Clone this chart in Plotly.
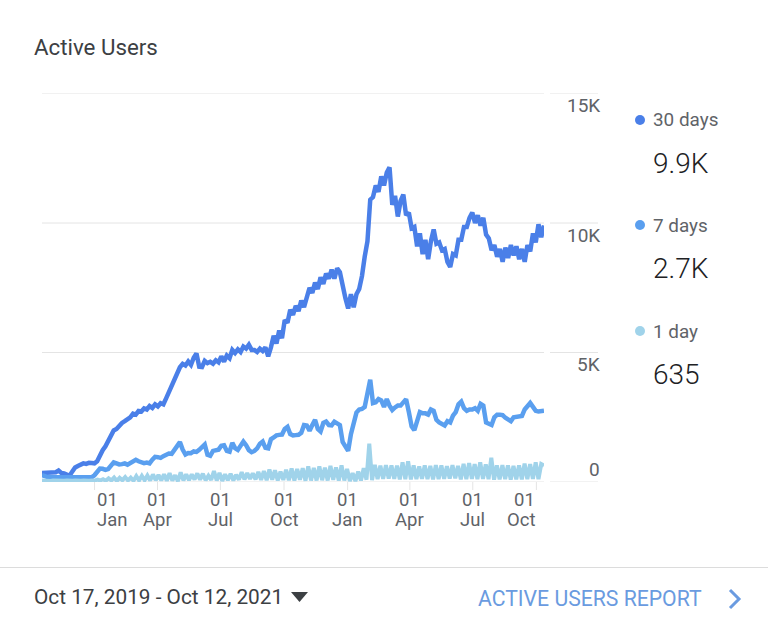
import pandas as pd
import plotly.graph_objects as go

WIDTH = 768
HEIGHT = 624

start_date = "2019-10-17"
end_date = "2021-10-12"

users_30_days = [
    350, 350, 370, 360, 370, 380, 440, 350, 330, 260, 240, 410, 560, 620, 680, 720, 700, 740, 730, 720,
    800, 1040, 1230, 1380, 1560, 1800, 1990, 2050, 2180, 2280, 2350, 2420, 2500, 2640, 2600, 2740, 2720, 2840, 2800, 2930,
    2860, 3000, 2920, 3040, 3000, 3230, 3470, 3800, 4050, 4220, 4430, 4560, 4500, 4650, 4520, 4800, 4960, 4450, 4440, 4680,
    4590, 4640, 4570, 4700, 4620, 4850, 4650, 4880, 4780, 5100, 4980, 5120, 5020, 5230, 5150, 5300, 5100, 5100, 5020, 5150,
    5060, 5200, 4850, 5200, 5650, 5350, 5850, 5550, 6250, 6150, 6650, 6450, 6800, 6600, 7000, 6750, 7200, 7500, 7300, 7700,
    7450, 7900, 7650, 8050, 7850, 8200, 7850, 8250, 8100, 7500, 7100, 6700, 7250, 6750, 7250, 7450, 7950, 8700, 9300, 10900,
    11000, 11450, 11200, 11800, 11450, 11950, 12150, 10700, 11050, 10250, 10850, 11100, 10300, 10400, 9800, 9850, 9100, 9600, 8800, 9350,
    8600, 9300, 9750, 9200, 9250, 8950, 9000, 8500, 8300, 8800, 8750, 9350, 9350, 9850, 9850, 10200, 10400, 10000, 10300, 9900,
    10200, 9550, 9400, 8950, 9150, 8700, 9000, 8500, 9050, 8650, 9150, 8750, 9100, 8600, 9000, 8500, 9150, 8900, 9600, 9250,
    9950, 9450, 9900,
]
users_7_days = [
    270, 220, 190, 180, 180, 190, 170, 190, 180, 190, 190, 180, 200, 210, 190, 180, 190, 180, 180, 260,
    420, 520, 510, 470, 500, 620, 760, 720, 680, 690, 720, 670, 730, 830, 860, 800, 770, 730, 750, 720,
    860, 970, 960, 930, 1000, 1060, 1100, 1090, 1250, 1400, 1540, 1250, 1060, 1120, 1110, 1180, 1160, 1240, 1380, 1450,
    1050, 1010, 1200, 1230, 1250, 1400, 1420, 1200, 1170, 1510, 1310, 1240, 1400, 1560, 1420, 1230, 1150, 1200, 1300, 1480,
    1560, 1320, 1300, 1650, 1720, 1800, 1820, 1830, 2050, 2130, 1850, 1800, 1810, 1820, 1900, 2200, 2180, 1980, 2200, 2400,
    2050, 1950, 2280, 2330, 2200, 2190, 2330, 2280, 2200, 1550, 1400, 1200, 1850, 2330, 2680, 2800, 2820, 2900, 3500, 3950,
    3050, 3080, 3200, 3150, 2900, 3200, 2950, 2780, 2880, 2950, 2950, 3100, 3200, 2700, 2150, 2000, 2300, 2700, 2650, 2650,
    2600, 2800, 2750, 2400, 2300, 2250, 2180, 2350, 2300, 2560, 2700, 3000, 3100, 2850, 2750, 2800, 2800, 2850, 2750, 3020,
    2950, 2300, 2250, 2200, 2500, 2600, 2600, 2580, 2480, 2400, 2350, 2500, 2520, 2500, 2550, 2800, 2950, 3050, 2900, 2750,
    2720, 2750, 2750,
]
users_1_day = [
    60, 50, 70, 40, 60, 50, 70, 40, 50, 60, 40, 50, 60, 40, 50, 60, 40, 50, 60, 50,
    90, 60, 110, 50, 140, 60, 170, 40, 160, 70, 190, 60, 170, 50, 230, 60, 240, 70, 250, 60,
    290, 70, 270, 60, 300, 50, 340, 60, 260, 30, 370, 60, 300, 70, 290, 100, 330, 90, 320, 70,
    240, 80, 420, 60, 350, 40, 300, 70, 320, 60, 280, 90, 380, 100, 340, 120, 330, 100, 390, 80,
    420, 70, 480, 90, 450, 60, 400, 80, 470, 70, 520, 60, 500, 90, 530, 50, 600, 60, 540, 60,
    600, 70, 550, 60, 620, 80, 560, 50, 640, 60, 500, 40, 340, 30, 400, 60, 530, 90, 1480, 70,
    660, 110, 630, 120, 650, 130, 640, 120, 630, 100, 760, 110, 800, 100, 640, 110, 600, 120, 640, 110,
    620, 100, 650, 110, 640, 120, 610, 130, 650, 140, 620, 100, 700, 110, 730, 120, 690, 110, 760, 120,
    680, 110, 940, 90, 640, 100, 650, 110, 640, 90, 620, 100, 640, 100, 710, 110, 690, 120, 760, 110,
    690, 635,
]

tick_dates = ["2020-01-01", "2020-04-01", "2020-07-01", "2020-10-01",
              "2021-01-01", "2021-04-01", "2021-07-01", "2021-10-01"]
tick_days = ["01", "01", "01", "01", "01", "01", "01", "01"]
tick_months = ["Jan", "Apr", "Jul", "Oct", "Jan", "Apr", "Jul", "Oct"]
y_ticks = [0, 5000, 10000, 15000]
y_labels = ["0", "5K", "10K", "15K"]

legend_names = ["30 days", "7 days", "1 day"]
legend_values = ["9.9K", "2.7K", "635"]
colors = ["#4a7fe8", "#5a9fef", "#a0d3ea"]
line_widths = [4.5, 4.5, 4]

GRID = "#e4e4e4"
LABEL = "#5f6368"
FONT = "Roboto"


def px(x):
    return x / WIDTH


def py(y):
    return 1 - y / HEIGHT


def dates_for(values):
    return pd.date_range(start_date, end_date, periods=len(values))


def text(x, y, string, size, color, anchor="left", weight=400):
    fig.add_annotation(
        x=px(x), y=py(y), xref="paper", yref="paper",
        text=string, showarrow=False,
        xanchor=anchor, yanchor="middle",
        font=dict(family=FONT, size=size, color=color, weight=weight),
        borderpad=0, borderwidth=0,
    )


fig = go.Figure()

series = [users_30_days, users_7_days, users_1_day]
for name, values, color, line_width in zip(legend_names, series, colors, line_widths):
    fig.add_trace(go.Scatter(
        x=dates_for(values),
        y=values,
        name=name,
        mode="lines",
        line=dict(color=color, width=line_width),
        cliponaxis=False,
    ))

fig.update_layout(
    width=WIDTH,
    height=HEIGHT,
    margin=dict(l=0, r=0, t=0, b=0),
    paper_bgcolor="white",
    plot_bgcolor="white",
    showlegend=False,
    font=dict(family=FONT),
)
fig.update_xaxes(
    domain=[px(42), px(544)],
    range=[start_date, end_date],
    type="date",
    showticklabels=False,
    ticks="",
    showgrid=False,
    zeroline=False,
    showline=False,
)
fig.update_yaxes(
    domain=[py(482), py(93.5)],
    range=[0, 15000],
    showticklabels=False,
    showgrid=False,
    zeroline=False,
    showline=False,
)

# month labels, the first and last ones are pushed inside the plot
for i, date in enumerate(tick_dates):
    fig.add_shape(
        type="line", xref="x", yref="paper", layer="below",
        x0=date, x1=date, y0=py(482), y1=py(490),
        line=dict(color=GRID, width=1),
    )
    anchor = "center"
    xshift = 0
    if i == 0:
        anchor = "left"
    elif i == len(tick_dates) - 1:
        anchor = "right"
        xshift = 1
    for string, row in ((tick_days[i], 500), (tick_months[i], 520)):
        fig.add_annotation(
            x=date, y=py(row), xref="x", yref="paper", xshift=xshift,
            text=string, showarrow=False,
            xanchor=anchor, yanchor="middle",
            font=dict(family=FONT, size=18.5, color=LABEL),
        )

# grid lines are drawn by hand, plotly drops them at the ends of the range,
# and each y label sits in its own short stretch of line
for value, label in zip(y_ticks, y_labels):
    for x0, x1 in ((42, 544), (550, 598)):
        fig.add_shape(
            type="line", xref="paper", yref="y", layer="below",
            x0=px(x0), x1=px(x1), y0=value, y1=value,
            line=dict(color=GRID, width=1),
        )
    fig.add_annotation(
        x=px(602), y=value, xref="paper", yref="y",
        yshift=13 if value == 0 else -12,
        text=label, showarrow=False,
        xanchor="right", yanchor="middle",
        font=dict(family=FONT, size=19, color=LABEL),
    )

text(34, 47, "Active Users", 22.3, "#3c4043")

legend_rows = [120, 225, 331]
for row, name, value, color in zip(legend_rows, legend_names, legend_values, colors):
    fig.add_shape(
        type="circle", xref="paper", yref="paper",
        x0=px(635), x1=px(645), y0=py(row + 5), y1=py(row - 5),
        fillcolor=color, line=dict(width=0),
    )
    text(653, row, name, 18.9, LABEL)
    text(653, row + 43.5, value, 28, "#202124", weight=300)

# footer
fig.add_shape(
    type="line", xref="paper", yref="paper",
    x0=0, x1=1, y0=py(567.5), y1=py(567.5),
    line=dict(color="#dcdcdc", width=1),
)
text(34, 597, "Oct 17, 2019 - Oct 12, 2021", 20.8, "#3c4043")
fig.add_shape(
    type="path", xref="paper", yref="paper",
    path=f"M {px(291)} {py(592)} L {px(308)} {py(592)} L {px(299.5)} {py(602)} Z",
    fillcolor="#3c4043", line=dict(width=0),
)
text(478, 598, "ACTIVE USERS REPORT", 21.2, "#6a9be0")
fig.add_shape(
    type="path", xref="paper", yref="paper",
    path=f"M {px(730)} {py(590)} L {px(739)} {py(599)} L {px(730)} {py(608)}",
    line=dict(color="#6a9be0", width=3),
)

fig.write_html(
    "out.html",
    config=dict(displayModeBar=False),
    post_script="document.body.style.margin='0';",
)
